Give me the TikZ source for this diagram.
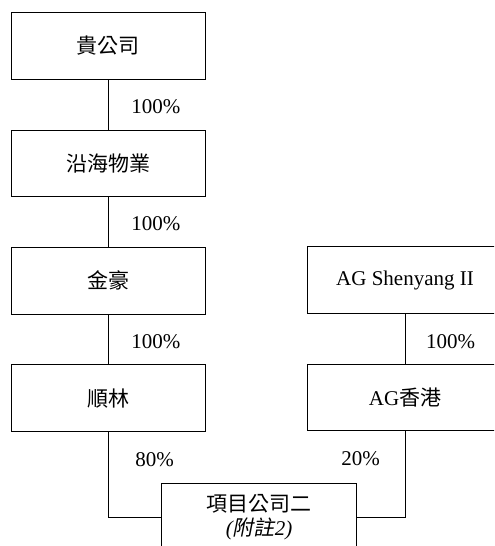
\documentclass[tikz,border=0pt]{standalone}
\usepackage{fontspec}
\setmainfont{Liberation Serif}
\newfontfamily\cjk{Noto Sans CJK TC}
\newfontfamily\cjkit[FakeSlant=0.2]{Noto Sans CJK TC}
\usetikzlibrary{positioning}

\begin{document}
\begin{tikzpicture}[x=0.5pt,y=-0.5pt,
    font=\fontsize{10.5}{13}\selectfont,
    node distance=24.9pt,
    company/.style={draw,line width=0.5pt,minimum width=97.3pt,minimum height=33.3pt,
      inner sep=0pt,align=center},
    link/.style={line width=0.5pt}]
    \clip (0,0) rectangle (494,546);
    % left column
    \node [company] (guigongsi) at (108.3,46) {\cjk 貴公司};
    \node [company,below=of guigongsi] (yanhai) {\cjk 沿海物業};
    \node [company,below=of yanhai] (jinhao) {\cjk 金豪};
    \node [company,below=of jinhao] (shunlin) {\cjk 順林};
    % right column
    \node [company] (shenyang) at (405,280) {AG Shenyang II};
    \node [company,below=of shenyang] (aghk) {AG{\cjk 香港}};
    % project company
    \node [company] (xiangmu) at (259,517)
      {{\cjk 項目公司二}\\[-1pt]{\itshape (}{\cjkit 附註}{\itshape 2)}};

    \draw [link] (guigongsi) -- node [right=8pt,yshift=-1pt] {100\%} (yanhai);
    \draw [link] (yanhai) -- node [right=8pt,yshift=-1pt] {100\%} (jinhao);
    \draw [link] (jinhao) -- node [right=8pt,yshift=-1pt] {100\%} (shunlin);
    \draw [link] (shenyang) -- node [right=7pt,yshift=-1.5pt] {100\%} (aghk);
    \draw [link] (shunlin) |- node [pos=0.16,right=10pt] {80\%} (xiangmu);
    \draw [link] (aghk) |- node [pos=0.16,left=9pt] {20\%} (xiangmu);
\end{tikzpicture}
\end{document}
